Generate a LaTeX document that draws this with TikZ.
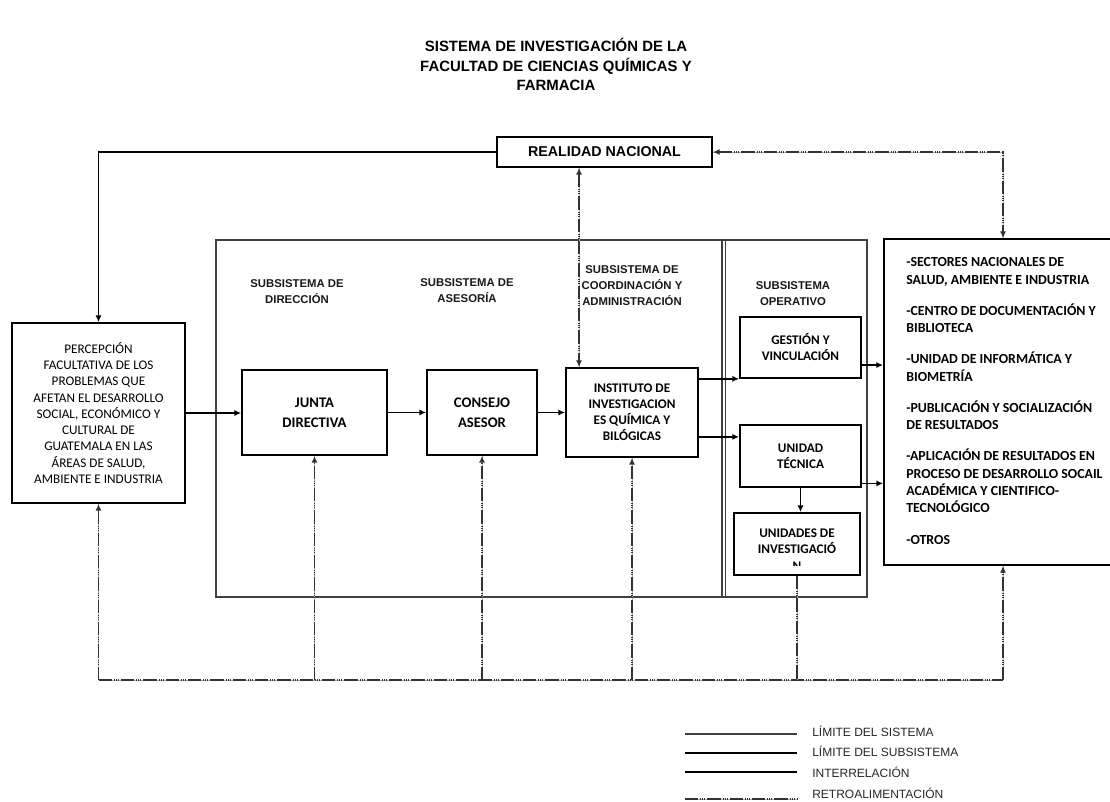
\documentclass[tikz,border=0pt]{standalone}
\usepackage{fontspec}
\setmainfont{Carlito}
\newfontfamily\arialf{Liberation Sans}
\usetikzlibrary{arrows.meta,calc,shadows}
\begin{document}
\begin{tikzpicture}[x=0.75pt,y=-0.75pt,
  box/.style={draw, line width=1.3pt, fill=white, inner sep=2pt, align=center,
    general shadow={fill=black!35, shadow xshift=1pt, shadow yshift=-1pt},
    font=\bfseries\fontsize{9.9}{12}\selectfont},
  wh/.style 2 args={minimum width=#1*0.75pt, minimum height=#2*0.75pt},
  head/.style={align=center, inner sep=0, font=\arialf\bfseries\fontsize{8.5}{12}\selectfont, text=black!90},
  tip/.style={-{Latex[length=5pt,width=4.5pt]}},
  conn/.style={line width=1.1pt, tip},
  fb/.style={line width=1.1pt, draw=black!80,
    dash pattern=on 10pt off 1.5pt on 0.75pt off 0.75pt on 0.75pt off 0.75pt on 0.75pt off 1.5pt,
    preaction={draw=black!30, line width=0.6pt, solid, arrows=-}},
  sysline/.style={draw=black!75, line width=0.8pt},
  legtext/.style={anchor=west, inner sep=0, font=\arialf\fontsize{9}{10}\selectfont, text=black!85}
]
\useasboundingbox (0,0) rectangle (1110,802);

% title
\node[align=center, font=\arialf\bfseries\fontsize{11.2}{14.6}\selectfont] (title) at (556,64.5)
  {SISTEMA DE INVESTIGACIÓN DE LA\\FACULTAD DE CIENCIAS QUÍMICAS Y\\FARMACIA};

% realidad nacional
\node[box, wh={215}{30}, font=\arialf\bfseries\fontsize{10.7}{12}\selectfont] (real) at (604.5,152) {REALIDAD NACIONAL};

% system boundary and subsystem boundary
\node[sysline, wh={651}{357}, inner sep=0] (sys) at (541.5,418.5) {};
\draw[sysline] (722,240) -- (722,597);
\draw[sysline] (725.5,240) -- (725.5,597);

% headings
\node[head] (h1) at (297,292) {SUBSISTEMA DE\\DIRECCIÓN};
\node[head] (h2) at (467,290.5) {SUBSISTEMA DE\\ASESORÍA};
\node[head] (h3) at (632,286) {SUBSISTEMA DE\\COORDINACIÓN Y\\ADMINISTRACIÓN};
\node[head] (h4) at (793,293.5) {SUBSISTEMA\\OPERATIVO};

% boxes
\node[box, wh={173}{180}, font=\fontsize{9.9}{12.2}\selectfont] (perc) at (98.5,413)
  {PERCEPCIÓN\\FACULTATIVA DE LOS\\PROBLEMAS QUE\\AFETAN EL DESARROLLO\\SOCIAL, ECONÓMICO Y\\CULTURAL DE\\GUATEMALA EN LAS\\ÁREAS DE SALUD,\\AMBIENTE E INDUSTRIA};
\node[box, wh={145}{85}, font=\bfseries\fontsize{11}{15}\selectfont] (junta) at (314.5,412.5) {JUNTA\\DIRECTIVA};
\node[box, wh={110}{85}, font=\bfseries\fontsize{11}{15}\selectfont] (consejo) at (482,412.5) {CONSEJO\\ASESOR};
\node[box, wh={132}{89}] (inst) at (632,412.5) {INSTITUTO DE\\INVESTIGACION\\ES QUÍMICA Y\\BILÓGICAS};
\node[box, wh={121}{61}] (gest) at (800.5,347.5) {GESTIÓN Y\\VINCULACIÓN};
\node[box, wh={121}{62}] (tec) at (800.5,456) {UNIDAD\\TÉCNICA};
\node[box, wh={126}{62}] (uni) at (797,544) {};
\begin{scope}
  \clip (734,513) rectangle (860,565);
  \node[align=center, inner sep=0, font=\bfseries\fontsize{9.9}{12.6}\selectfont] (unitext) at (797,549.5)
    {UNIDADES DE\\INVESTIGACIÓ\\N};
\end{scope}
\node[box, wh={231}{326}] (rbox) at (999.5,402) {};
\node[anchor=north west, align=left, inner sep=0, font=\bfseries\fontsize{10.4}{13}\selectfont] (rtext) at (906,257.5)
  {-SECTORES NACIONALES DE\\SALUD, AMBIENTE E INDUSTRIA\\[10.4pt]
   -CENTRO DE DOCUMENTACIÓN Y\\BIBLIOTECA\\[10.4pt]
   -UNIDAD DE INFORMÁTICA Y\\BIOMETRÍA\\[10.4pt]
   -PUBLICACIÓN Y SOCIALIZACIÓN\\DE RESULTADOS\\[10.4pt]
   -APLICACIÓN DE RESULTADOS EN\\PROCESO DE DESARROLLO SOCAIL\\ACADÉMICA Y CIENTIFICO-\\TECNOLÓGICO\\[10.4pt]
   -OTROS};

% interrelation connectors
\draw[conn] (perc.east) -- (perc.east -| junta.west);
\draw[conn] (junta.east) -- (consejo.west);
\draw[conn] (consejo.east) -- (consejo.east -| inst.west);
\draw[conn] (inst.east |- gest.south) -- (gest.south west);
\coordinate (t1) at ($(tec.north west)!0.2!(tec.south west)$);
\draw[conn] (t1 -| inst.east) -- (t1);
\coordinate (g2) at ($(gest.north east)!0.78!(gest.south east)$);
\draw[conn] (g2) -- (g2 -| rbox.west);
\coordinate (t2) at ($(tec.north east)!0.93!(tec.south east)$);
\draw[conn] (t2) -- (t2 -| rbox.west);
\draw[conn] (tec.south) -- (tec.south |- uni.north);
\draw[conn] (real.west) -| (perc.north);

% feedback connectors
\coordinate (vx) at (579,0);
\coordinate (rx) at (1003,0);
\draw[fb, {Latex[length=5pt,width=4.5pt]}-{Latex[length=5pt,width=4.5pt]}] (real.south -| vx) -- (inst.north -| vx);
\draw[fb, {Latex[length=5pt,width=4.5pt]}-{Latex[length=5pt,width=4.5pt]}] (real.east) -| (rbox.north -| rx);
\coordinate (bl) at (98.5,680);
\coordinate (br) at (1003,680);
\draw[fb] (bl) -- (br);
\draw[fb, tip] (bl) -- (perc.south);
\draw[fb, tip] (bl -| junta.south) -- (junta.south);
\draw[fb, tip] (bl -| consejo.south) -- (consejo.south);
\draw[fb, tip] (bl -| inst.south) -- (inst.south);
\draw[fb] (uni.south) -- (uni.south |- bl);
\draw[fb, tip] (br) -- (br |- rbox.south);

% legend
\node[legtext] (l1) at (812,731) {LÍMITE DEL SISTEMA};
\node[legtext] (l2) at (812,751) {LÍMITE DEL SUBSISTEMA};
\node[legtext] (l3) at (812,772) {INTERRELACIÓN};
\node[legtext] (l4) at (812,793) {RETROALIMENTACIÓN};
\draw[sysline] (685,734) -- (797,734);
\draw[line width=1.8pt] (685,753) -- (797,753);
\draw[line width=1.1pt] (685,772) -- (797,772);
\draw[fb] (685,799) -- (797,799);
\end{tikzpicture}
\end{document}
